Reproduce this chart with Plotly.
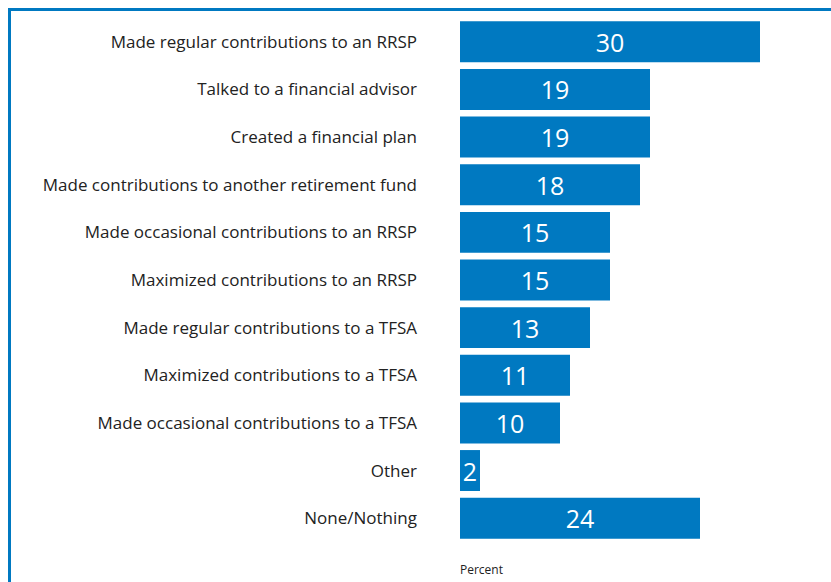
import plotly.graph_objects as go

categories = [
    "Made regular contributions to an RRSP",
    "Talked to a financial advisor",
    "Created a financial plan",
    "Made contributions to another retirement fund",
    "Made occasional contributions to an RRSP",
    "Maximized contributions to an RRSP",
    "Made regular contributions to a TFSA",
    "Maximized contributions to a TFSA",
    "Made occasional contributions to a TFSA",
    "Other",
    "None/Nothing",
]
values = [30, 19, 19, 18, 15, 15, 13, 11, 10, 2, 24]
axis_title = "Percent"

BLUE = "#0079C1"
W, H = 831, 582
L, R, T, B = 460, 31, 18, 40
pw, ph = W - L - R, H - T - B

fig = go.Figure(go.Bar(
    x=values, y=categories, orientation="h",
    marker=dict(color=BLUE, line=dict(width=0)),
    text=[str(v) for v in values], textposition="inside",
    insidetextanchor="middle", textangle=0,
    textfont=dict(color="white", size=25, family="Open Sans"),
    cliponaxis=False,
))

fig.update_layout(
    width=W, height=H,
    margin=dict(l=L, r=R, t=T, b=B),
    paper_bgcolor="white", plot_bgcolor="white",
    bargap=0.14, showlegend=False,
    uniformtext=dict(minsize=25, mode="show"),
    xaxis=dict(range=[0, 34], visible=False, fixedrange=True),
    yaxis=dict(
        categoryorder="array", categoryarray=categories,
        range=[10.5, -0.5], showgrid=False, zeroline=False,
        showline=False, ticks="", ticklabelstandoff=42, fixedrange=True,
        tickfont=dict(family="Open Sans", size=17, color="#222222"),
    ),
    font=dict(family="Open Sans"),
    shapes=[
        dict(type="line", xref="paper", yref="paper",
             x0=(9 - L) / pw, x1=(W + 5 - L) / pw,
             y0=1 + (T - 9.5) / ph, y1=1 + (T - 9.5) / ph,
             line=dict(color=BLUE, width=3)),
        dict(type="line", xref="paper", yref="paper",
             x0=(9.5 - L) / pw, x1=(9.5 - L) / pw,
             y0=1 + (T - 8) / ph, y1=-(B + 5) / ph,
             line=dict(color=BLUE, width=3)),
    ],
    annotations=[
        dict(text=axis_title, xref="paper", yref="paper",
             x=(458 - L) / pw, y=-(569 - (H - B)) / ph,
             xanchor="left", yanchor="middle", showarrow=False,
             font=dict(family="Open Sans", size=12, color="#222222")),
    ],
)

fig.write_html("out.html", config={"displayModeBar": False},
               post_script="document.body.style.margin='0';document.body.style.overflow='hidden';")
